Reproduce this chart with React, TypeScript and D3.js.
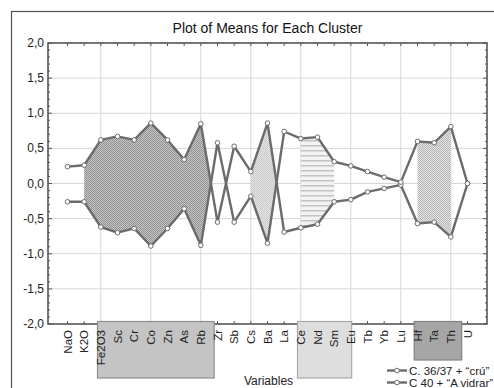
import React, { useEffect, useRef } from 'react';
import * as d3 from 'd3';

// variables along the x axis
const variables = ["NaO", "K2O", "Fe2O3", "Sc", "Cr", "Co", "Zn", "As", "Rb", "Zr", "Sb", "Cs", "Ba",
    "La", "Ce", "Nd", "Sm", "Eu", "Tb", "Yb", "Lu", "Hf", "Ta", "Th", "U"];

// cluster means (standardised)
const cluster1 = [0.24, 0.26, 0.62, 0.67, 0.62, 0.86, 0.62, 0.34, 0.85, -0.55, 0.53, 0.17, 0.86,
    -0.69, -0.63, -0.58, -0.26, -0.23, -0.12, -0.07, -0.02, -0.57, -0.55, -0.76, 0.0];
const cluster2 = [-0.26, -0.26, -0.62, -0.70, -0.64, -0.89, -0.64, -0.36, -0.88, 0.58, -0.55, -0.18, -0.85,
    0.74, 0.64, 0.66, 0.31, 0.25, 0.17, 0.09, 0.02, 0.60, 0.58, 0.81, 0.0];
const seriesNames = ['C. 36/37 + \u201Ccr\u00FA\u201D', 'C 40 + \u201CA vidrar\u201D'];

const yTicks = [-2, -1.5, -1, -0.5, 0, 0.5, 1, 1.5, 2];
const gridVars = ["Fe2O3", "Co", "Rb", "Cs", "Ce", "Eu", "Lu", "Th"];

// shaded regions between the two profiles (toCrossing: run on to where the lines cross)
const shadedBands = [
    {from: "K2O", to: "Rb", toCrossing: true},
    {from: "Cs", to: "Ba", toCrossing: true},
    {from: "Ce", to: "Sm", toCrossing: false},
    {from: "Hf", to: "Th", toCrossing: false},
];
// grey boxes behind the variable labels, in variable-index units
const labelGroups = [
    {from: 1.8, to: 8.8},
    {from: 13.8, to: 17.05},
    {from: 20.8, to: 23.65},
];

const bandFills = ["url(#p-dense)", "url(#p-light)", "url(#p-stripe)", "url(#p-check)"];
const groupStyles = [
    {fill: "#c4c4c4", stroke: "#8f8f8f", bottom: 378},
    {fill: "#dedede", stroke: "#a8a8a8", bottom: 378},
    {fill: "#a6a6a6", stroke: "#838383", bottom: 360},
];

const LINE = "#6b6b6b";
const FONT = "'Liberation Sans', Arial, sans-serif";

function bandPoints(band) {
    const a = variables.indexOf(band.from), b = variables.indexOf(band.to);
    const pts = [];
    for (let i = a; i <= b; i++) {
        pts.push({i, hi: Math.max(cluster1[i], cluster2[i]), lo: Math.min(cluster1[i], cluster2[i])});
    }
    if (band.toCrossing && b + 1 < variables.length) {
        const d0 = cluster1[b] - cluster2[b], d1 = cluster1[b + 1] - cluster2[b + 1];
        const t = d0 / (d0 - d1);
        const yc = cluster1[b] + t * (cluster1[b + 1] - cluster1[b]);
        pts.push({i: b + t, hi: yc, lo: yc});
    }
    return pts;
}

export default function App() {
    const ref = useRef(null);

    useEffect(() => {
        const svg = d3.select(ref.current);
        svg.selectAll("*").remove();

        const left = 48, right = 487, top = 43, bottom = 324;

        const x = d3.scalePoint().domain(variables).range([left, right]).padding(1.17);
        const xi = i => x(variables[0]) + i * x.step();
        const y = d3.scaleLinear().domain([-2, 2]).range([bottom, top]);
        const fmt = v => v.toFixed(1).replace(".", ",");

        // patterns
        const defs = svg.append("defs");
        const checker = (id, bg, fg) => {
            const p = defs.append("pattern").attr("id", id).attr("patternUnits", "userSpaceOnUse")
                .attr("width", 2).attr("height", 2);
            p.append("rect").attr("width", 2).attr("height", 2).attr("fill", bg);
            p.append("rect").attr("width", 1).attr("height", 1).attr("fill", fg);
            p.append("rect").attr("x", 1).attr("y", 1).attr("width", 1).attr("height", 1).attr("fill", fg);
        };
        checker("p-dense", "#c6c6c6", "#929292");
        checker("p-light", "#e6e6e6", "#c8c8c8");
        checker("p-check", "#e4e4e4", "#b6b6b6");
        const stripe = defs.append("pattern").attr("id", "p-stripe").attr("patternUnits", "userSpaceOnUse")
            .attr("width", 4).attr("height", 5);
        stripe.append("rect").attr("width", 4).attr("height", 5).attr("fill", "#f3f3f3");
        stripe.append("rect").attr("width", 4).attr("height", 1.5).attr("fill", "#c4c4c4");

        svg.append("rect").attr("width", 494).attr("height", 388).attr("fill", "#fff");
        // outer frame
        svg.append("rect").attr("x", 11.5).attr("y", 11.5).attr("width", 600).attr("height", 600)
            .attr("fill", "none").attr("stroke", "#555").attr("stroke-width", 1.2);

        // title
        svg.append("text").attr("x", (left + right) / 2).attr("y", 33).attr("text-anchor", "middle")
            .style("font-family", FONT).style("font-size", "14px").attr("fill", "#111")
            .text("Plot of Means for Each Cluster");

        // grid
        svg.append("g").selectAll("line").data(yTicks.slice(1, -1)).enter().append("line")
            .attr("x1", left).attr("x2", right).attr("y1", d => y(d)).attr("y2", d => y(d))
            .attr("stroke", "#d6d6d6").attr("stroke-width", 1);
        svg.append("g").selectAll("line").data(gridVars).enter().append("line")
            .attr("x1", d => x(d)).attr("x2", d => x(d)).attr("y1", top).attr("y2", bottom)
            .attr("stroke", "#d6d6d6").attr("stroke-width", 1);

        // shaded bands
        const area = d3.area().x(d => xi(d.i)).y0(d => y(d.lo)).y1(d => y(d.hi));
        shadedBands.forEach((band, k) => {
            svg.append("path").attr("d", area(bandPoints(band))).attr("fill", bandFills[k]);
        });

        // profiles
        const line = d3.line().x((d, i) => x(variables[i])).y(d => y(d));
        [cluster1, cluster2].forEach(series => {
            svg.append("path").attr("d", line(series)).attr("fill", "none")
                .attr("stroke", LINE).attr("stroke-width", 2.4).attr("stroke-linejoin", "round");
        });
        [cluster1, cluster2].forEach(series => {
            svg.append("g").selectAll("circle").data(series).enter().append("circle")
                .attr("cx", (d, i) => x(variables[i])).attr("cy", d => y(d)).attr("r", 2.3)
                .attr("fill", "#fff").attr("stroke", LINE).attr("stroke-width", 1);
        });

        // plot frame and ticks
        svg.append("rect").attr("x", left).attr("y", top).attr("width", right - left).attr("height", bottom - top)
            .attr("fill", "none").attr("stroke", "#555").attr("stroke-width", 1.6);
        const ticks = svg.append("g").attr("stroke", "#555").attr("stroke-width", 1);
        variables.forEach(v => {
            ticks.append("line").attr("x1", x(v)).attr("x2", x(v)).attr("y1", top).attr("y2", top + 3);
            ticks.append("line").attr("x1", x(v)).attr("x2", x(v)).attr("y1", bottom).attr("y2", bottom - 3);
        });
        y.ticks(40).forEach(t => {
            const len = yTicks.includes(t) ? 4 : 2;
            ticks.append("line").attr("x1", left).attr("x2", left + len).attr("y1", y(t)).attr("y2", y(t));
            ticks.append("line").attr("x1", right).attr("x2", right - len).attr("y1", y(t)).attr("y2", y(t));
        });

        // y labels
        svg.append("g").selectAll("text").data(yTicks).enter().append("text")
            .attr("x", 44).attr("y", d => y(d) + 4).attr("text-anchor", "end")
            .style("font-family", FONT).style("font-size", "12px").attr("fill", "#222")
            .text(d => fmt(d));

        // label group boxes
        labelGroups.forEach((g, k) => {
            const s = groupStyles[k];
            svg.append("rect").attr("x", xi(g.from)).attr("y", 321.5)
                .attr("width", xi(g.to) - xi(g.from)).attr("height", s.bottom - 321.5)
                .attr("fill", s.fill).attr("stroke", s.stroke).attr("stroke-width", 1.2);
        });

        // x labels
        svg.append("g").selectAll("text").data(variables).enter().append("text")
            .attr("transform", d => "translate(" + (x(d) + 4) + ",330) rotate(-90)")
            .attr("text-anchor", "end")
            .style("font-family", FONT).style("font-size", "11.5px").attr("fill", "#222")
            .text(d => d);

        svg.append("text").attr("x", (left + right) / 2 + 1).attr("y", 384.5).attr("text-anchor", "middle")
            .style("font-family", FONT).style("font-size", "12px").attr("fill", "#222")
            .text("Variables");

        // legend
        seriesNames.forEach((name, k) => {
            const ly = 370.5 + k * 12;
            svg.append("line").attr("x1", 387).attr("x2", 407).attr("y1", ly).attr("y2", ly)
                .attr("stroke", LINE).attr("stroke-width", 2.4);
            svg.append("circle").attr("cx", 397).attr("cy", ly).attr("r", 2.3)
                .attr("fill", "#fff").attr("stroke", LINE).attr("stroke-width", 1);
            svg.append("text").attr("x", 409).attr("y", ly + 4)
                .style("font-family", FONT).style("font-size", "11.5px").attr("fill", "#222")
                .text(name);
        });
    }, []);

    return <svg ref={ref} width={494} height={388}
                style={{position: "absolute", left: 0, top: 0, display: "block"}}/>;
}
